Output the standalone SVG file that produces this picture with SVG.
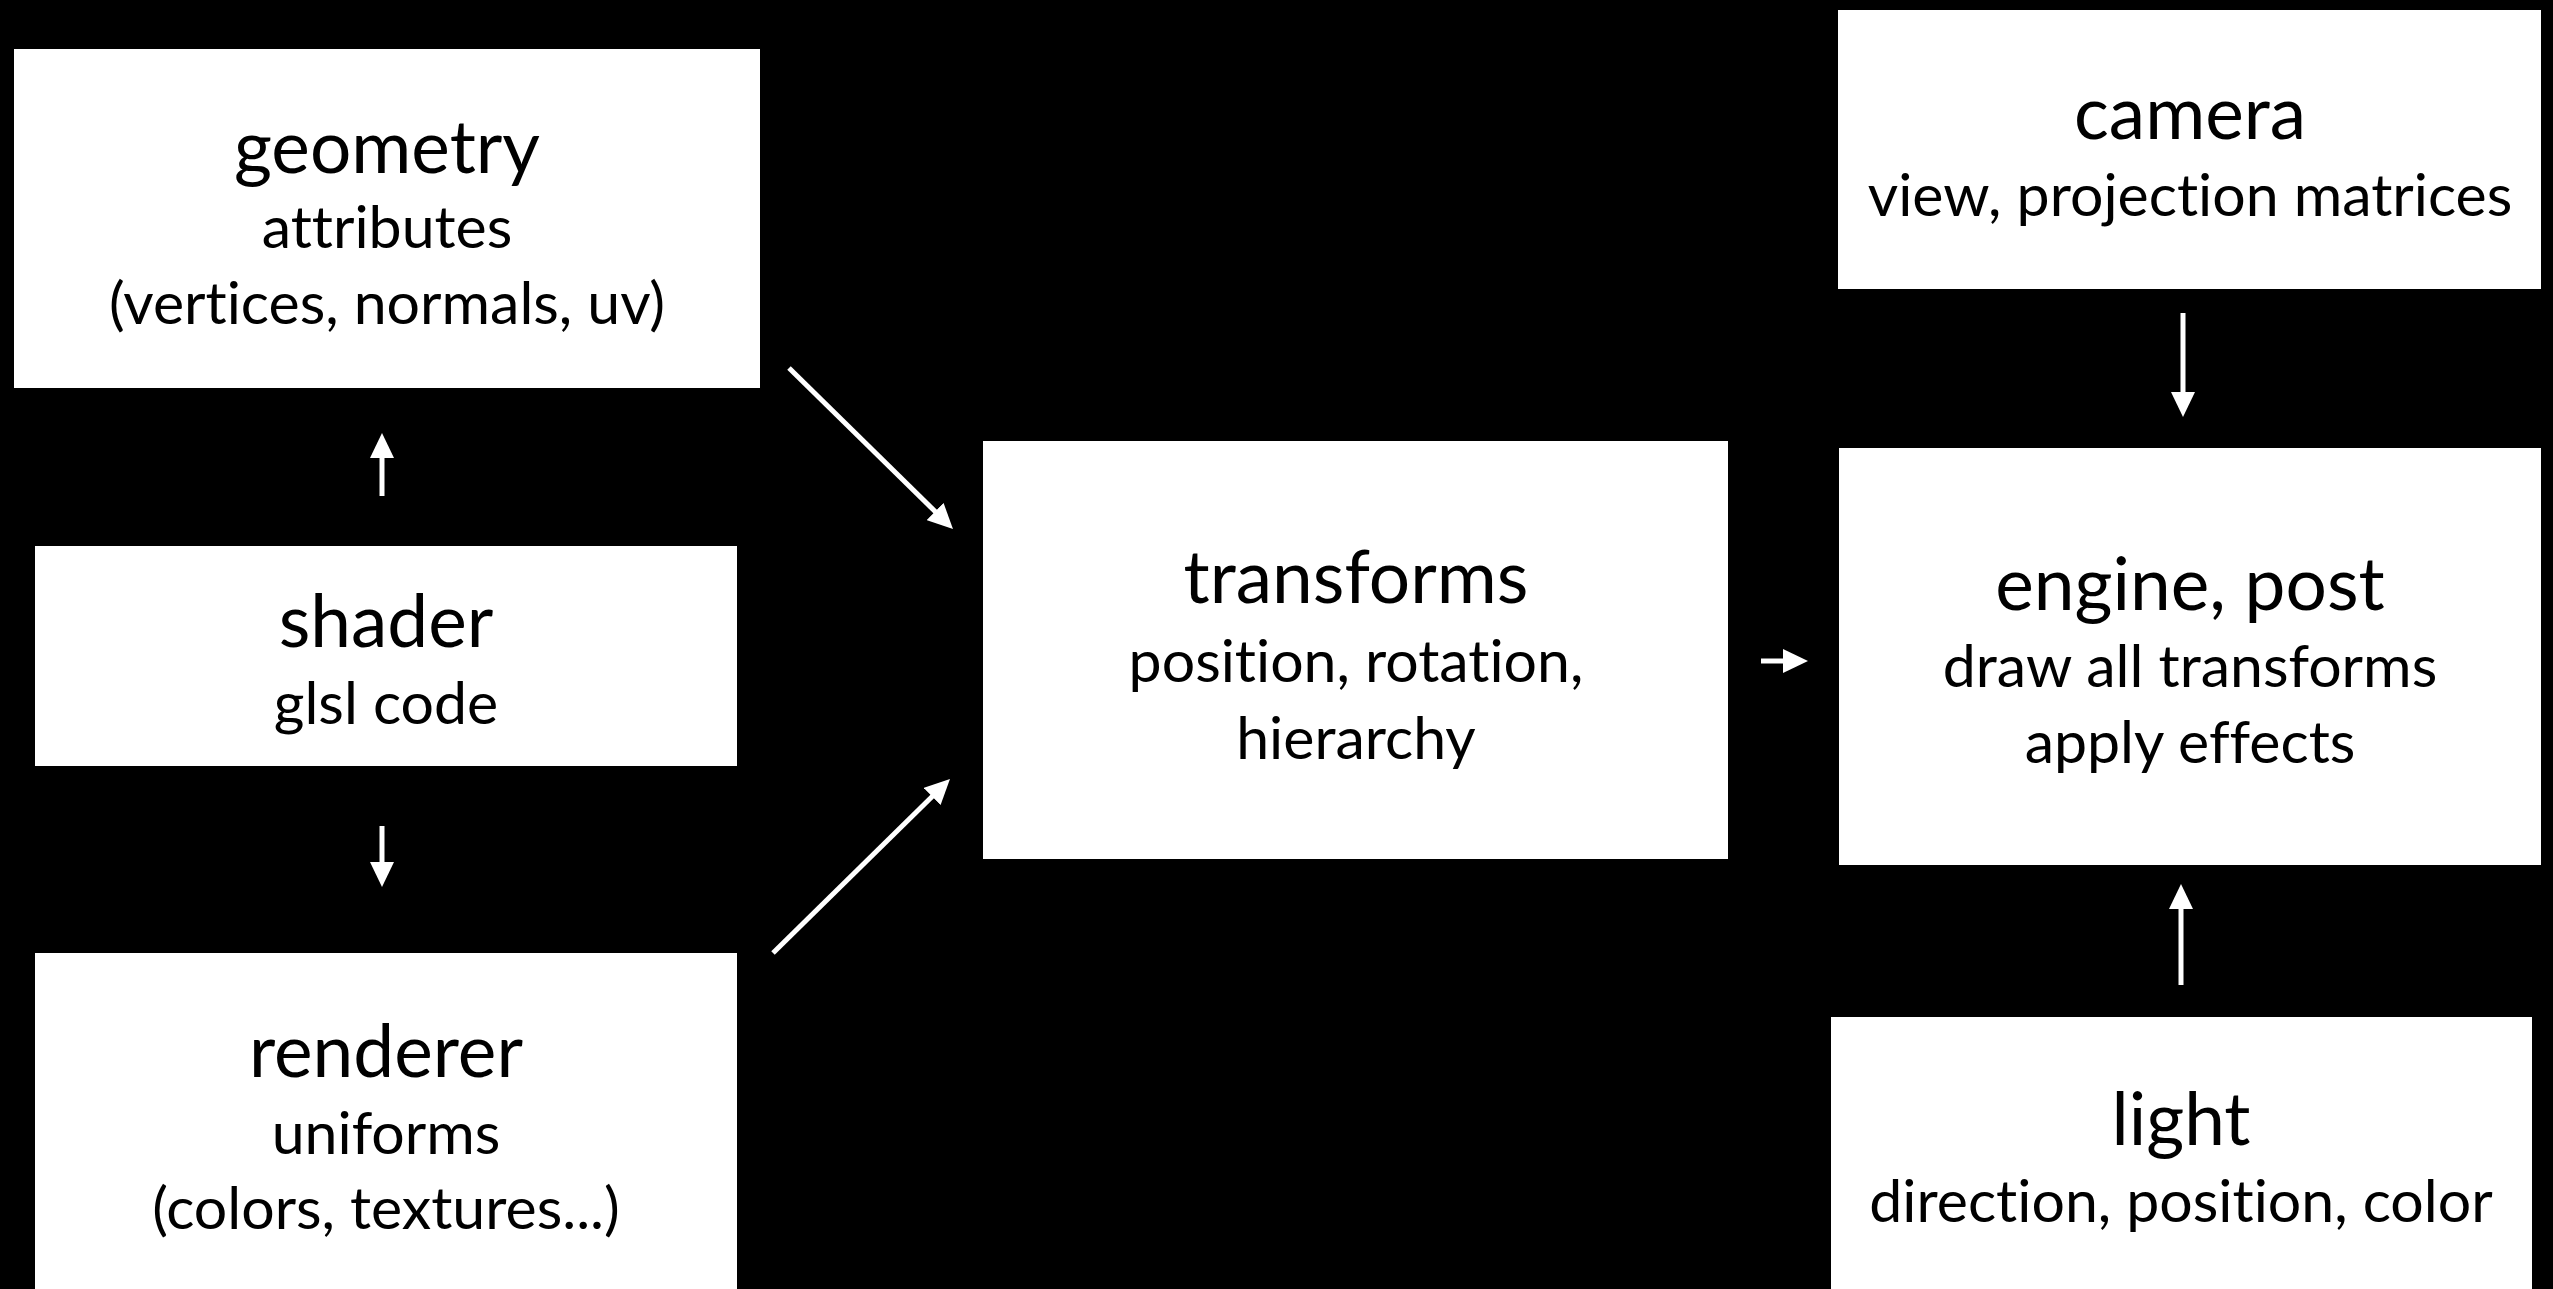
<svg xmlns="http://www.w3.org/2000/svg" width="2553" height="1289" viewBox="0 0 2553 1289">
  <defs>
    <style>
      .box { fill: #ffffff; }
      .t { font-family: Lato, "Open Sans", "Liberation Sans", sans-serif; fill: #000000; text-anchor: middle; font-variant-ligatures: none; font-feature-settings: "liga" 0, "clig" 0; }
      .title { font-size: 73px; }
      .sub { font-size: 59px; }
      .conn { stroke: #ffffff; stroke-width: 5; fill: none; marker-end: url(#arrow); }
    </style>
    <marker id="arrow" markerUnits="userSpaceOnUse" markerWidth="25" markerHeight="24" refX="4" refY="12" orient="auto">
      <path d="M0,0 L25,12 L0,24 z" fill="#ffffff"/>
    </marker>
  </defs>
  <rect x="0" y="0" width="2553" height="1289" fill="#000000"/>

  <g id="geometry">
    <rect class="box" x="14" y="49" width="746" height="339"/>
    <text class="t title" x="387" y="173">geometry</text>
    <text class="t sub" x="387" y="248">attributes</text>
    <text class="t sub" x="387" y="324">(vertices, normals, uv)</text>
  </g>

  <g id="shader">
    <rect class="box" x="35" y="546" width="702" height="220"/>
    <text class="t title" x="386" y="647">shader</text>
    <text class="t sub" x="386" y="724">glsl code</text>
  </g>

  <g id="renderer">
    <rect class="box" x="35" y="953" width="702" height="340"/>
    <text class="t title" x="386" y="1077">renderer</text>
    <text class="t sub" x="386" y="1154">uniforms</text>
    <text class="t sub" x="386" y="1229">(colors, textures...)</text>
  </g>

  <g id="transforms">
    <rect class="box" x="983" y="441" width="745" height="418"/>
    <text class="t title" x="1356" y="603">transforms</text>
    <text class="t sub" x="1356" y="682">position, rotation,</text>
    <text class="t sub" x="1356" y="759">hierarchy</text>
  </g>

  <g id="camera">
    <rect class="box" x="1838" y="10" width="703" height="279"/>
    <text class="t title" x="2190" y="139">camera</text>
    <text class="t sub" x="2190" y="216">view, projection matrices</text>
  </g>

  <g id="engine">
    <rect class="box" x="1839" y="448" width="702" height="417"/>
    <text class="t title" x="2190" y="610">engine, post</text>
    <text class="t sub" x="2190" y="687">draw all transforms</text>
    <text class="t sub" x="2190" y="763">apply effects</text>
  </g>

  <g id="light">
    <rect class="box" x="1831" y="1017" width="701" height="276"/>
    <text class="t title" x="2181" y="1145">light</text>
    <text class="t sub" x="2181" y="1222">direction, position, color</text>
  </g>

  <g id="connectors">
    <line class="conn" x1="382" y1="496" x2="382" y2="454"/>
    <line class="conn" x1="382" y1="826" x2="382" y2="866"/>
    <line class="conn" x1="789" y1="368" x2="938" y2="514.3"/>
    <line class="conn" x1="773" y1="953" x2="935" y2="793.7"/>
    <line class="conn" x1="1761" y1="661" x2="1787" y2="661"/>
    <line class="conn" x1="2183" y1="313" x2="2183" y2="396"/>
    <line class="conn" x1="2181" y1="985" x2="2181" y2="905"/>
  </g>
</svg>
